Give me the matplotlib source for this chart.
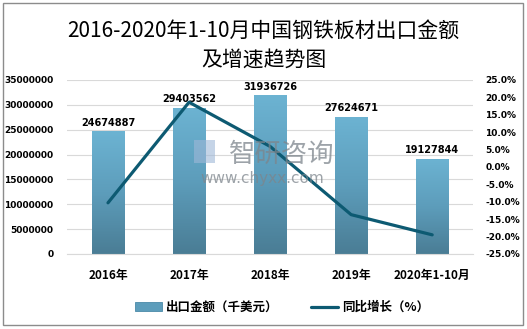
import matplotlib
matplotlib.use("Agg")
import matplotlib.pyplot as plt
from matplotlib.patches import Rectangle
from matplotlib.colors import LinearSegmentedColormap
import numpy as np

plt.rcParams['font.family'] = ['Noto Sans CJK SC', 'DejaVu Sans']

years = ["2016年", "2017年", "2018年", "2019年", "2020年1-10月"]
exports = [24674887, 29403562, 31936726, 27624671, 19127844]
growth = [-10.3, 18.6, 5.9, -13.7, -19.5]

lineColor = "#0d5a72"
barMap = LinearSegmentedColormap.from_list("bar", ["#4a7d95", "#5d9dbb", "#6cb3d2"])

fig = plt.figure(figsize=(5.27, 3.29), dpi=100)
ax = fig.add_axes([0.128, 0.228, 0.769, 0.529])
ax2 = ax.twinx()

x = np.arange(len(years))
bars = ax.bar(x, exports, width=0.4, color="#5d9dbb", edgecolor="#4a8aa8",
              linewidth=0.6, zorder=2, label="出口金额（千美元）")
# vertical gradient fill like the original
grad = np.linspace(0, 1, 100).reshape(-1, 1)
for b in bars:
    im = ax.imshow(grad, cmap=barMap, origin="lower", aspect="auto", zorder=2.1,
                   extent=[b.get_x(), b.get_x() + b.get_width(), 0, b.get_height()])
    im.set_clip_path(b)
for xi, v in zip(x, exports):
    ax.text(xi, v + 700000, str(v), ha="center", va="bottom", fontsize=7,
            fontweight="bold", family="DejaVu Sans")

ax.set_xlim(-0.5, len(years) - 0.5)
ax.set_ylim(0, 35000000)
ax.set_yticks(np.arange(0, 35000001, 5000000))
ax.set_yticklabels([str(int(t)) for t in np.arange(0, 35000001, 5000000)],
                   fontsize=6.5, fontweight="bold", family="DejaVu Sans")
ax.set_xticks(x)
ax.set_xticklabels(years, fontsize=8.5, fontweight="bold")
ax.tick_params(axis="both", length=0, pad=10)
ax.tick_params(axis="x", pad=11)
ax.grid(axis="y", color="#d9d9d9", linewidth=0.8, zorder=0)
ax.set_axisbelow(True)
for s in ["top", "left", "right"]:
    ax.spines[s].set_visible(False)
ax.spines["bottom"].set_color("#d9d9d9")

ax2.set_ylim(-25, 25)
ax2.set_yticks(np.arange(-25, 26, 5))
ax2.set_yticklabels(["%.1f%%" % t for t in np.arange(-25, 26, 5)],
                    fontsize=6.5, fontweight="bold", family="DejaVu Sans")
ax2.tick_params(axis="y", length=0, pad=9)
for s in ["top", "left", "right", "bottom"]:
    ax2.spines[s].set_visible(False)
line, = ax2.plot(x, growth, color=lineColor, linewidth=2.3, zorder=3,
                 solid_joinstyle="round", solid_capstyle="round",
                 label="同比增长（%）")

fig.text(0.5, 0.905, "2016-2020年1-10月中国钢铁板材出口金额", ha="center",
         va="center", fontsize=15)
fig.text(0.5, 0.82, "及增速趋势图", ha="center", va="center", fontsize=15)

# watermark
fig.patches.append(Rectangle((0.368, 0.505), 0.04, 0.07, transform=fig.transFigure,
                             facecolor="#9fb8d8", edgecolor="none", alpha=0.6, zorder=5))
fig.text(0.535, 0.53, "智研咨询", ha="center", va="center", fontsize=19,
         color="#7d858c", alpha=0.75, zorder=5)
fig.text(0.497, 0.458, "www.chyxx.com", ha="center", va="center", fontsize=11,
         color="#7d858c", alpha=0.75, zorder=5, family="DejaVu Sans")

fig.legend([bars, line], ["出口金额（千美元）", "同比增长（%）"], loc="center",
           bbox_to_anchor=(0.535, 0.065), ncol=2, frameon=False,
           prop={"size": 9, "weight": "bold"}, handlelength=2.2,
           columnspacing=2.6, handletextpad=0.3)

fig.patches.append(Rectangle((0.006, 0.012), 0.986, 0.98, transform=fig.transFigure,
                             fill=False, edgecolor="#8c8c8c", linewidth=1))

fig.savefig("out.png", dpi=100)
